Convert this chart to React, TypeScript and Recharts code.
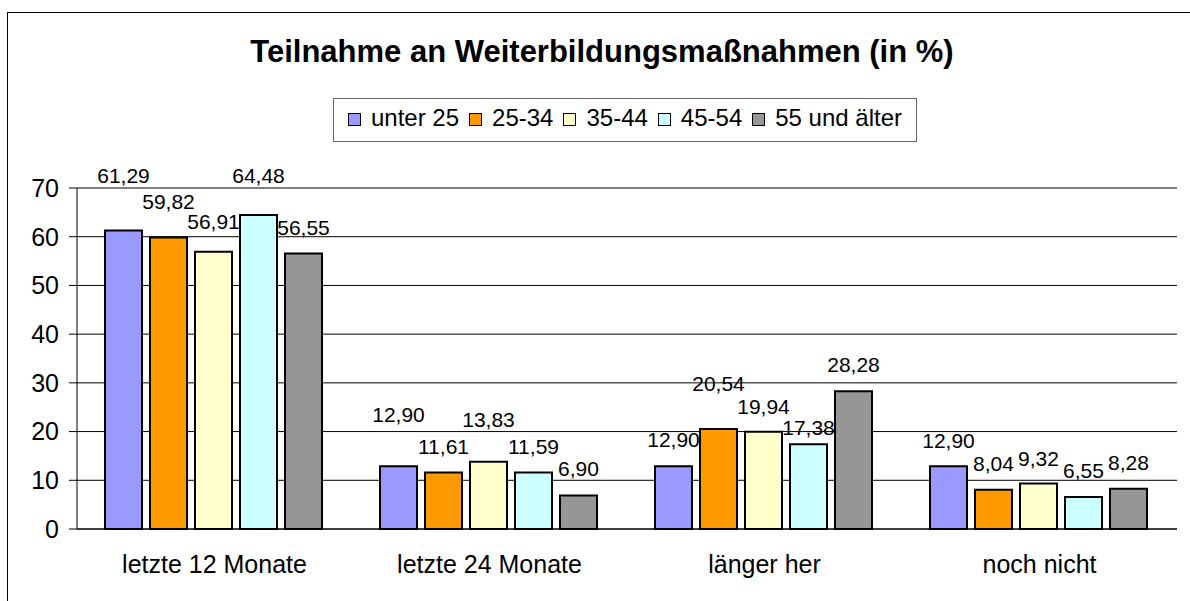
import React from 'react';
import { BarChart, Bar, XAxis, YAxis, CartesianGrid, LabelList } from 'recharts';

const categories = ['letzte 12 Monate', 'letzte 24 Monate', 'länger her', 'noch nicht'];
const seriesNames = ['unter 25', '25-34', '35-44', '45-54', '55 und älter'];
const unter25 = [61.29, 12.9, 12.9, 12.9];
const age25to34 = [59.82, 11.61, 20.54, 8.04];
const age35to44 = [56.91, 13.83, 19.94, 9.32];
const age45to54 = [64.48, 11.59, 17.38, 6.55];
const age55plus = [56.55, 6.9, 28.28, 8.28];
const yTicks = [0, 10, 20, 30, 40, 50, 60, 70];
const boundaryTicks = [0, 1, 2, 3, 4];
const chartTitle = 'Teilnahme an Weiterbildungsmaßnahmen (in %)';

const seriesValues = [unter25, age25to34, age35to44, age45to54, age55plus];
const seriesColors = ['#9999FF', '#FF9900', '#FFFFCC', '#CCFFFF', '#969696'];
// style: distance (px) of each value label's baseline above its bar top
const labelLift = [
  [47, 44, 19, 18],
  [29, 18, 38, 19],
  [23, 35, 18, 18],
  [32, 19, 9, 19],
  [19, 19, 19, 19],
];

const FONT = '"Liberation Sans", Arial, Helvetica, sans-serif';

const data = categories.map((cat, ci) => {
  const row: Record<string, string | number> = { cat };
  seriesValues.forEach((vals, si) => {
    row['s' + si] = vals[ci];
  });
  return row;
});

const fmt = (v: number) => Number(v).toFixed(2).replace('.', ',');

const makeLabel = (si: number) => (props: any) => {
  const { x, y, width, value, index } = props;
  const lift = labelLift[si][index] ?? 19;
  return (
    <text
      x={Number(x) + Number(width) / 2}
      y={Number(y) - lift}
      textAnchor="middle"
      fontSize={21}
      fontFamily={FONT}
      fill="#000"
    >
      {fmt(value)}
    </text>
  );
};

export default function App() {
  return (
    <div
      style={{
        position: 'absolute',
        left: 0,
        top: 0,
        width: 1190,
        height: 601,
        overflow: 'hidden',
        background: '#fff',
        fontFamily: FONT,
      }}
    >
      <div
        style={{
          position: 'absolute',
          left: 7,
          top: 12,
          width: 1200,
          height: 700,
          border: '1px solid #000',
          boxSizing: 'border-box',
        }}
      />
      <div style={{ position: 'absolute', left: 0, top: 0 }}>
        <BarChart
          width={1190}
          height={601}
          data={data}
          margin={{ top: 188, right: 13, bottom: 22, left: 0 }}
          barCategoryGap={28}
          barGap={8}
        >
          <CartesianGrid vertical={false} stroke="#000" strokeOpacity={1} />
          <XAxis
            xAxisId="bounds"
            type="number"
            domain={[0, 4]}
            ticks={boundaryTicks}
            height={0}
            tick={false}
            tickSize={8}
            tickLine={{ stroke: '#000' }}
            axisLine={{ stroke: '#000' }}
            allowDataOverflow
          />
          <XAxis
            dataKey="cat"
            height={50}
            tickLine={false}
            tickSize={0}
            tickMargin={26}
            axisLine={{ stroke: '#000' }}
            tick={{ fontSize: 25, fill: '#000', fontFamily: FONT }}
            interval={0}
          />
          <XAxis
            xAxisId="top"
            orientation="top"
            dataKey="cat"
            height={0}
            tick={false}
            tickLine={false}
            axisLine={{ stroke: '#808080' }}
          />
          <YAxis
            width={77}
            domain={[0, 70]}
            ticks={yTicks}
            tickSize={8}
            tickMargin={10}
            tickLine={{ stroke: '#000' }}
            axisLine={{ stroke: '#000' }}
            tick={{ fontSize: 25, fill: '#000', fontFamily: FONT }}
            interval={0}
          />
          <YAxis
            yAxisId="right"
            orientation="right"
            width={0}
            domain={[0, 70]}
            ticks={yTicks}
            tick={false}
            tickLine={false}
            axisLine={{ stroke: '#808080' }}
          />
          {seriesNames.map((name, si) => (
            <Bar
              key={name}
              dataKey={'s' + si}
              name={name}
              fill={seriesColors[si]}
              stroke="#000"
              strokeWidth={2}
              isAnimationActive={false}
            >
              <LabelList dataKey={'s' + si} content={makeLabel(si)} />
            </Bar>
          ))}
        </BarChart>
      </div>
      <div
        style={{
          position: 'absolute',
          left: 7,
          top: 36,
          width: 1190,
          textAlign: 'center',
          fontSize: 31,
          lineHeight: '31px',
          fontWeight: 'bold',
          color: '#000',
          whiteSpace: 'nowrap',
        }}
      >
        {chartTitle}
      </div>
      <div
        style={{
          position: 'absolute',
          left: 333,
          top: 98,
          width: 584,
          height: 44,
          border: '1px solid #666',
          boxSizing: 'border-box',
          background: '#fff',
          display: 'flex',
          justifyContent: 'center',
          alignItems: 'flex-start',
          paddingTop: 7,
          fontSize: 24,
          lineHeight: '24px',
          color: '#000',
          whiteSpace: 'nowrap',
        }}
      >
        {seriesNames.map((name, si) => (
          <div key={name} style={{ display: 'flex', alignItems: 'flex-start', marginLeft: si === 0 ? 0 : 10 }}>
            <div
              style={{
                width: 13,
                height: 13,
                marginTop: 7,
                marginRight: 10,
                background: seriesColors[si],
                border: '1.5px solid #000',
                boxSizing: 'border-box',
              }}
            />
            <span>{name}</span>
          </div>
        ))}
      </div>
    </div>
  );
}
